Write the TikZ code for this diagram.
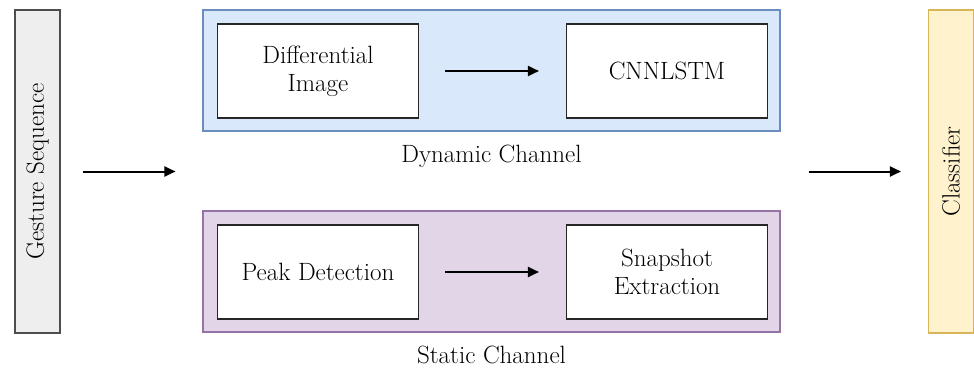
\documentclass[tikz,border=0pt]{standalone}
\usepackage{fontspec}
\usetikzlibrary{arrows.meta,positioning}

\definecolor{seqfill}{HTML}{EEEEEE}
\definecolor{seqline}{HTML}{4D4D4D}
\definecolor{dynfill}{HTML}{DAE8FC}
\definecolor{dynline}{HTML}{6C8EBF}
\definecolor{statfill}{HTML}{E1D5E7}
\definecolor{statline}{HTML}{9673A6}
\definecolor{clsfill}{HTML}{FFF2CC}
\definecolor{clsline}{HTML}{D6B656}

\tikzset{
  txt/.style={font=\fontsize{25}{28}\selectfont},
  block/.style={txt, draw=black!85, line width=1.1pt, fill=white, align=center,
    minimum width=201pt, minimum height=94pt, inner sep=0pt},
  channel/.style={draw, line width=1.1pt, minimum width=577pt, minimum height=121pt, inner sep=0pt},
  bar/.style={txt, draw, line width=1.1pt, rotate=90, minimum width=323pt, minimum height=45pt, inner sep=0pt},
  flow/.style={-{Triangle[length=11pt,width=10pt]}, line width=2pt}
}

\begin{document}
\begin{tikzpicture}[x=1pt,y=-1pt]
  \useasboundingbox (0,0) rectangle (974,369);
  \node[bar, fill=seqfill, draw=seqline]      (seq)  at (37.5,171.5)  {Gesture Sequence};
  \node[channel, fill=dynfill, draw=dynline]  (dyn)  at (491.5,70.5)  {};
  \node[channel, fill=statfill, draw=statline] (stat) at (491.5,271.5) {};
  \node[bar, fill=clsfill, draw=clsline]      (cls)  at (951,171.5)   {Classifier};

  \node[block] (diff)     at (318,71)  {Differential\\Image};
  \node[block] (cnnlstm)  at (667,71)  {CNNLSTM};
  \node[block] (peak)     at (318,272) {Peak Detection};
  \node[block] (snapshot) at (667,272) {Snapshot\\Extraction};

  \node[txt, below=10pt of dyn]  (dynlabel)  {Dynamic Channel};
  \node[txt, below=10pt of stat] (statlabel) {Static Channel};

  \draw[flow, shorten <=22pt, shorten >=27pt] (seq.south) -- (seq.south -| dyn.west);
  \draw[flow, shorten <=26pt, shorten >=27pt] (diff) -- (cnnlstm);
  \draw[flow, shorten <=26pt, shorten >=27pt] (peak) -- (snapshot);
  \draw[flow, shorten <=28pt, shorten >=27pt] (cls.north -| dyn.east) -- (cls.north);
\end{tikzpicture}
\end{document}
